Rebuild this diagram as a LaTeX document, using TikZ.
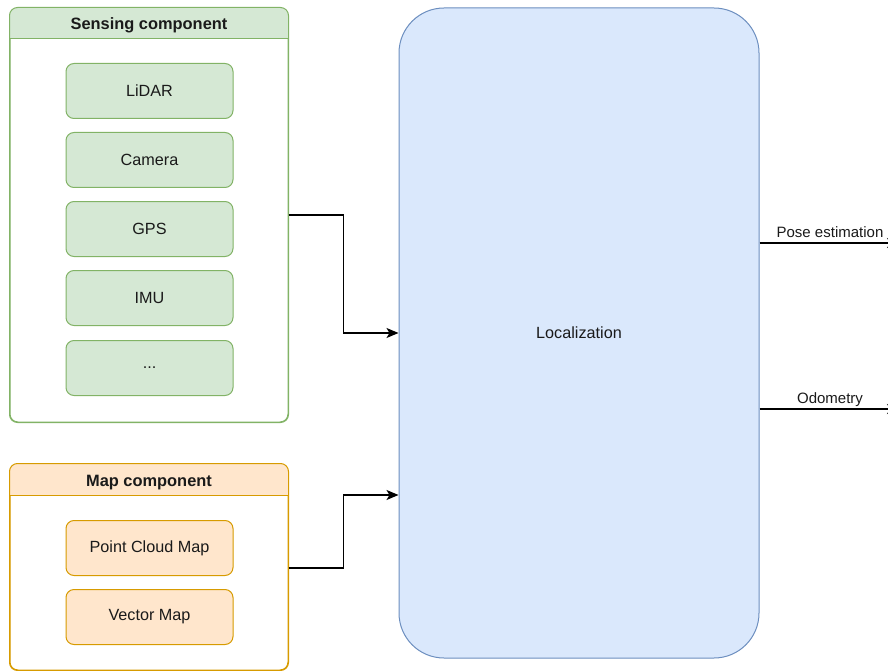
\documentclass[tikz,border=0pt]{standalone}
\usepackage{fontspec}
\setmainfont{Liberation Sans}
\usetikzlibrary{arrows.meta}
\definecolor{gfill}{HTML}{D5E8D4}
\definecolor{gline}{HTML}{82B366}
\definecolor{ofill}{HTML}{FFE6CC}
\definecolor{oline}{HTML}{D79B00}
\definecolor{bfill}{HTML}{DAE8FC}
\definecolor{bline}{HTML}{6C8EBF}
\definecolor{ink}{HTML}{1A1A1A}
\tikzset{
  base/.style={inner sep=0pt, text=ink, font=\fontsize{16.2}{19}\selectfont},
  container/.style={base, draw=#1, fill=white, rounded corners=8pt, line width=1pt},
  item/.style={base, draw=#1, rounded corners=8pt, line width=1pt,
    minimum width=167pt, minimum height=55pt},
  title/.style={base, font=\fontsize{16.4}{19}\selectfont\bfseries},
  flow/.style={draw=black, line width=1.2pt, -{Stealth[length=12pt,width=10pt,inset=3pt]}},
  edgelabel/.style={base, font=\fontsize{15}{18}\selectfont},
}
\begin{document}
\begin{tikzpicture}[x=1pt, y=-1pt]
\useasboundingbox (0,0) rectangle (888,671);

% Sensing component
\node[container=gline, minimum width=278pt, minimum height=414pt] (sensing) at (149,215) {};
\begin{scope}
  \clip (sensing.north west) rectangle ([yshift=-31pt]sensing.north east);
  \fill[gfill, rounded corners=8pt] (sensing.north west) rectangle (sensing.south east);
\end{scope}
\draw[gline, line width=1pt] ([yshift=-31pt]sensing.north west) -- ([yshift=-31pt]sensing.north east);
\draw[gline, line width=1pt, rounded corners=8pt] (sensing.north west) rectangle (sensing.south east);
\node[title] (sensingtitle) at (149,25.5) {Sensing component};

\node[item=gline, fill=gfill] (lidar)  at (149.5,91)  {LiDAR};
\node[item=gline, fill=gfill] (camera) at (149.5,160) {Camera};
\node[item=gline, fill=gfill] (gps)    at (149.5,229) {GPS};
\node[item=gline, fill=gfill] (imu)    at (149.5,298) {IMU};
\node[item=gline, fill=gfill] (more)   at (149.5,368) {...};

% Map component
\node[container=oline, minimum width=278pt, minimum height=206pt] (mapc) at (149,567) {};
\begin{scope}
  \clip (mapc.north west) rectangle ([yshift=-32pt]mapc.north east);
  \fill[ofill, rounded corners=8pt] (mapc.north west) rectangle (mapc.south east);
\end{scope}
\draw[oline, line width=1pt] ([yshift=-32pt]mapc.north west) -- ([yshift=-32pt]mapc.north east);
\draw[oline, line width=1pt, rounded corners=8pt] (mapc.north west) rectangle (mapc.south east);
\node[title] (maptitle) at (149,482.5) {Map component};

\node[item=oline, fill=ofill] (pcm) at (149.5,548) {Point Cloud Map};
\node[item=oline, fill=ofill] (vm)  at (149.5,617) {Vector Map};

% Localization
\node[base, draw=bline, fill=bfill, line width=1pt, rounded corners=45pt,
      minimum width=360pt, minimum height=650pt] (loc) at (579,333) {Localization};

% Inputs
\draw[flow] (sensing.east) -- ++(55,0) |- (loc.west);
\coordinate (mapin) at ([yshift=-162pt]loc.west);
\draw[flow] (mapc.east) ++(0,1) -- ++(55,0) |- (mapin);

% Outputs
\coordinate (poseout) at (899,243);
\coordinate (odomout) at (899,409);
\draw[flow] (loc.east |- poseout) -- (poseout);
\draw[flow] (loc.east |- odomout) -- (odomout);
\node[edgelabel, anchor=base] (poselabel) at (830,237) {Pose estimation};
\node[edgelabel, anchor=base] (odomlabel) at (830,403) {Odometry};
\end{tikzpicture}
\end{document}
